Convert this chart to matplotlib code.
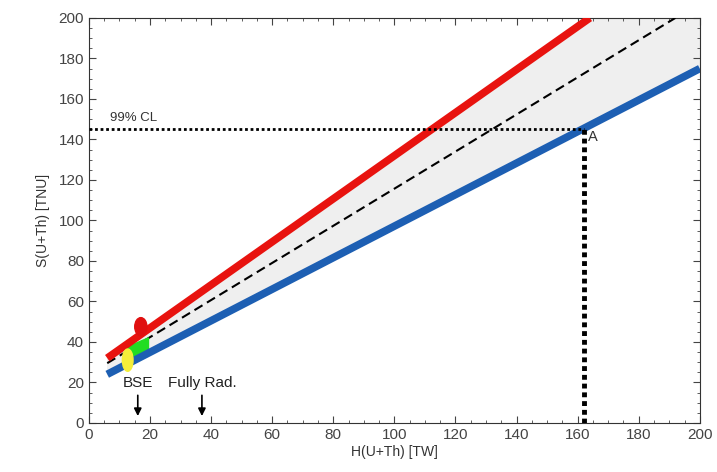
import numpy as np
import matplotlib
matplotlib.use("Agg")
import matplotlib.pyplot as plt
from matplotlib.patches import Ellipse, Polygon
from matplotlib.ticker import MultipleLocator

plt.rcParams['font.family'] = ['Liberation Sans', 'DejaVu Sans']

# line end points: (H, S)
red_x = [6, 164]
red_y = [32, 200]
dash_x = [6, 192]
dash_y = [29.5, 200]
blue_x = [6, 200]
blue_y = [24, 175]

cl_level = 145
point_a = (162, 145)

bse_h = 16
fully_rad_h = 37

fig = plt.figure(figsize=(7.17, 4.72), dpi=100)
ax = fig.add_axes([0.124, 0.104, 0.852, 0.858])

# shaded band between red and blue lines
xs = np.linspace(6, 200, 200)
red_slope = (red_y[1] - red_y[0]) / (red_x[1] - red_x[0])
upper = np.minimum(red_y[0] + red_slope * (xs - red_x[0]), 200)
lower = np.interp(xs, blue_x, blue_y)
ax.fill_between(xs, lower, upper, color='#efefef', zorder=1)

ax.plot(dash_x, dash_y, color='black', ls=(0, (4.5, 2.5)), lw=1.5, zorder=3)

# green band between the red and blue lines
ax.add_patch(Polygon([[12.5, 30], [19.5, 34.5], [19.5, 42], [12.5, 37.5]], closed=True,
                     color='#22dd22', zorder=3.5))

ax.plot(red_x, red_y, color='#e8130f', lw=5.5, solid_capstyle='butt', zorder=4)
ax.plot(blue_x, blue_y, color='#1d5fb3', lw=5.5, solid_capstyle='butt', zorder=4)

# 99% CL dotted lines
ax.plot([0, point_a[0]], [cl_level, cl_level], color='black', ls=(0, (1, 1)), lw=2, zorder=5)
ax.plot([point_a[0], point_a[0]], [0, cl_level], color='black', ls=(0, (1, 0.8)), lw=3.5, zorder=5)
ax.text(7, 149, '99% CL', fontsize=9.5, color='#333333')
ax.text(point_a[0] + 1.5, point_a[1] - 6, 'A', fontsize=10.5, color='#333333')

# model markers
ax.add_patch(Ellipse((17, 47.5), 4, 9, color='#e01010', zorder=6))
ax.add_patch(Ellipse((12.7, 31), 3.5, 11, color='#f5ef3a', zorder=7))

# BSE / Fully Rad. arrows
ax.text(bse_h, 19.5, 'BSE', ha='center', va='center', fontsize=11, color='#222222')
ax.text(fully_rad_h, 19.5, 'Fully Rad.', ha='center', va='center', fontsize=11, color='#222222')
for h in [bse_h, fully_rad_h]:
    ax.annotate('', xy=(h, 2), xytext=(h, 15),
                arrowprops=dict(arrowstyle='-|>', color='black', lw=1.2, mutation_scale=11))

ax.set_xlim(0, 200)
ax.set_ylim(0, 200)
ax.xaxis.set_major_locator(MultipleLocator(20))
ax.yaxis.set_major_locator(MultipleLocator(20))
ax.xaxis.set_minor_locator(MultipleLocator(5))
ax.yaxis.set_minor_locator(MultipleLocator(5))
ax.tick_params(which='both', direction='in', top=True, right=True, colors='#444444',
               labelsize=11, labelcolor='#444444')
ax.tick_params(which='major', length=5)
ax.tick_params(which='minor', length=2.5)
for s in ax.spines.values():
    s.set_color('#333333')
ax.set_xlabel('H(U+Th) [TW]', fontsize=10, color='#333333', labelpad=2)
ax.set_ylabel('S(U+Th) [TNU]', fontsize=10, color='#333333', labelpad=6)

fig.savefig('out.png', dpi=100)
